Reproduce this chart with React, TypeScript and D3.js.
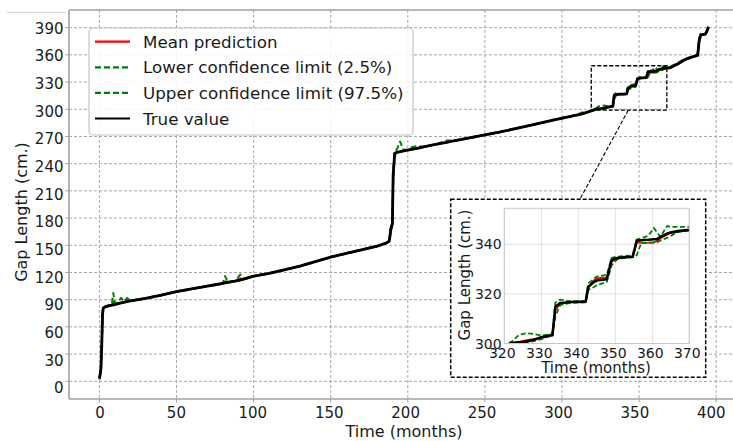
import React from 'react';
import * as d3 from 'd3';

const months = [0, 0.5, 1, 1.5, 2, 2.5, 4, 6, 8, 9,
  10, 12, 14, 16, 18, 20, 25, 30, 40, 50,
  60, 70, 75, 80, 81.5, 83, 88, 91.4, 93, 100,
  110, 117, 130, 140, 150, 160, 170, 180, 186, 188,
  189, 190, 190.5, 191.5, 193, 195, 197, 200, 203, 206,
  210, 220, 225, 230, 240, 260, 280, 295, 310, 313,
  316, 320, 322, 324, 326, 328, 330, 332, 333, 333.8,
  335.1, 338, 342, 342.7, 344, 345, 347.7, 349, 350.4, 352,
  354.7, 355.8, 357, 359, 360.4, 361.2, 362.2, 364, 364.8, 367,
  370, 375, 380, 385, 388, 389, 390, 393, 394, 395];

const trueValue = [3, 8, 15, 40, 74, 81, 82.3, 83.3, 84, 84.4,
  84.8, 85.6, 86.4, 87.2, 88, 88.6, 90, 91.5, 95, 99,
  102, 105, 106.5, 108, 108.5, 109, 110.5, 111.8, 112.5, 116,
  119, 121.7, 127, 132, 137, 141, 145, 149, 152.5, 155,
  168, 174, 228, 251.5, 252.5, 253.2, 254, 255, 256, 257,
  258.5, 262, 263.5, 265.3, 268.5, 275, 282.5, 288.4, 293.8, 295,
  296.6, 298.8, 300.2, 300.5, 300.8, 301.5, 302.5, 303.2, 303.3, 314.8,
  316.3, 316.7, 316.9, 322.9, 324.5, 325.4, 325.9, 333.7, 334.4, 334.7,
  335, 341.4, 341.6, 341.8, 342, 342, 343, 344.3, 344.7, 345.3,
  345.8, 350, 355, 358, 359.5, 376, 382, 383, 386, 391];

const meanPrediction = [3, 8, 15, 40, 74, 81, 82.3, 83.3, 84, 87.5,
  85.3, 85.6, 86.4, 87.2, 90, 88.6, 90, 91.5, 95, 99,
  102, 105, 106.5, 108, 110, 109, 110.5, 113.5, 112.5, 116,
  119, 121.7, 127, 132, 137, 141, 145, 149, 152.5, 155,
  168, 174, 225, 251.5, 252.5, 253.5, 254, 255, 256, 257,
  258.5, 262, 263.5, 265.3, 268.5, 275, 282.5, 288.4, 293.8, 295,
  296.6, 298.8, 300.2, 300.7, 301.4, 301.8, 302.2, 303, 303.3, 313.5,
  316, 316.7, 316.9, 322.5, 325.2, 326.3, 326.6, 333, 334.3, 334.7,
  335, 340.8, 340.6, 340.7, 340.9, 341.2, 342.4, 343.9, 344.5, 345.2,
  345.8, 350, 355, 358, 359.8, 376.5, 382, 383, 386, 391];

const lowerLimit = [2, 7, 14, 38, 72, 80.5, 82, 83, 83.7, 84,
  84.5, 85.3, 86.1, 87, 87.8, 88.3, 89.7, 91.2, 94.7, 98.7,
  101.7, 104.7, 106.2, 107.7, 108.2, 108.7, 110.2, 111.5, 112.2, 115.7,
  118.7, 121.4, 126.7, 131.7, 136.7, 140.7, 144.7, 148.7, 152.2, 154,
  165, 172, 222, 250, 252, 253, 253.7, 254.7, 255.7, 256.7,
  258.2, 261.7, 263.2, 265, 268.2, 274.7, 282.2, 288.1, 293.5, 294.7,
  296.3, 298.5, 299.9, 300.2, 300.5, 301, 301.8, 302.8, 303, 311,
  315.5, 316.4, 316.6, 321.6, 322.6, 323.5, 324.8, 331.5, 333.8, 334.4,
  334.7, 335.6, 340.5, 340.6, 340.6, 340.7, 341.5, 342.6, 343.2, 345,
  345.5, 349.7, 354.7, 357.7, 359, 374, 381, 382.7, 385, 390];

const upperLimit = [4, 9, 16, 42, 76, 82, 82.8, 83.8, 84.4, 97.5,
  86, 87, 92, 88, 92, 89, 90.3, 91.8, 95.3, 99.3,
  102.3, 105.3, 106.8, 108.3, 116, 110, 110.8, 117.8, 113, 116.3,
  119.3, 122, 127.3, 132.3, 137.3, 141.3, 145.3, 149.3, 152.8, 156,
  170, 176, 232, 252.5, 256, 264.5, 255.5, 255.5, 258.5, 259.5,
  258.8, 262.3, 265.5, 265.6, 268.8, 275.3, 282.8, 288.7, 294.1, 296.5,
  296.9, 299.1, 300.8, 303.5, 304.2, 303.8, 303.2, 303.6, 304, 316.5,
  317.7, 317, 317.2, 324.3, 325.8, 327, 327.7, 334.5, 335, 335.2,
  335.5, 342, 342.3, 343.5, 346.6, 345, 343, 347.4, 347, 347,
  347, 351, 356, 358.5, 361, 379, 383, 383.5, 387, 391.5];

const xTicks = [0, 50, 100, 150, 200, 250, 300, 350, 400];
const yTicks = [0, 30, 60, 90, 120, 150, 180, 210, 240, 270, 300, 330, 360, 390];
const insetXTicks = [320, 330, 340, 350, 360, 370];
const insetYTicks = [300, 320, 340];
const zoomWindow = { x0: 319, x1: 368, y0: 299, y1: 348 };

const seriesDefs = [
  { label: 'Mean prediction', values: meanPrediction, color: '#ff0000', dash: '' },
  { label: 'Lower confidence limit (2.5%)', values: lowerLimit, color: '#008000', dash: '6,3' },
  { label: 'Upper confidence limit (97.5%)', values: upperLimit, color: '#008000', dash: '6,3' },
  { label: 'True value', values: trueValue, color: '#000000', dash: '' },
];

const FONT = 'DejaVu Sans, sans-serif';

export default function App() {
  const x = d3.scaleLinear().domain([-19.75, 414.75]).range([69, 738.9]);
  const y = d3.scaleLinear().domain([-19.5, 409.5]).range([399, 10]);
  const xLab = d3.scaleLinear().domain([0, 400]).range([100, 711.3]);
  const yLab = d3.scaleLinear().domain([0, 390]).range([388, 28.3]);

  const xi = d3.scaleLinear().domain([320, 370]).range([504.3, 689.3]);
  const yi = d3.scaleLinear().domain([300, 354.5]).range([343.5, 208.3]);

  const mainLine = (vals: number[]) =>
    d3.line<number>().x((_, i) => x(months[i])).y((v) => y(v))(vals) || '';
  const insetLine = (vals: number[]) =>
    d3.line<number>().x((_, i) => xi(months[i])).y((v) => yi(v))(vals) || '';

  const gridColor = '#a8a8a8';
  const spineColor = '#a0a0a0';

  return (
    <svg width={733} height={441} style={{ position: 'absolute', left: 0, top: 0, background: '#fff' }}
      fontFamily={FONT}>
      <defs>
        <clipPath id="mainClip"><rect x={69} y={10} width={670} height={389} /></clipPath>
        <clipPath id="insetClip"><rect x={xi(320)} y={yi(354.5)} width={xi(370) - xi(320)} height={yi(300) - yi(354.5)} /></clipPath>
      </defs>
      <rect x={0} y={0} width={733} height={441} fill="#fff" />
      <line x1={7} x2={66} y1={12.3} y2={12.3} stroke="#cfcfcf" strokeWidth={1} />

      <g clipPath="url(#mainClip)">
        {xTicks.map((t) => (
          <line key={'gx' + t} x1={x(t)} x2={x(t)} y1={10} y2={399} stroke={gridColor} strokeWidth={1} strokeDasharray="3,2" />
        ))}
        {yTicks.map((t) => (
          <line key={'gy' + t} x1={69} x2={739} y1={y(t)} y2={y(t)} stroke={gridColor} strokeWidth={1} strokeDasharray="3,2" />
        ))}
      </g>

      <g clipPath="url(#mainClip)" fill="none">
        {seriesDefs.map((s) => (
          <path key={s.label} d={mainLine(s.values)} stroke={s.color}
            strokeWidth={s.label === 'True value' ? 2.8 : 2}
            strokeDasharray={s.dash || undefined} strokeLinejoin="round" />
        ))}
      </g>

      <line x1={69} x2={69} y1={10} y2={399} stroke={spineColor} strokeWidth={1.6} />
      <line x1={69} x2={739} y1={399} y2={399} stroke={spineColor} strokeWidth={1.6} />
      <line x1={69} x2={739} y1={10} y2={10} stroke={spineColor} strokeWidth={1.6} />

      {yTicks.map((t) => (
        <g key={'yt' + t}>
          <line x1={65.5} x2={69} y1={y(t)} y2={y(t)} stroke={spineColor} strokeWidth={1} />
          <text x={63.5} y={yLab(t)} dy="0.36em" textAnchor="end" fontSize={15} fill="#1a1a1a">{t}</text>
        </g>
      ))}
      {xTicks.map((t) => (
        <g key={'xt' + t}>
          <line x1={x(t)} x2={x(t)} y1={399} y2={402.5} stroke={spineColor} strokeWidth={1} />
          <text x={xLab(t)} y={417.5} textAnchor="middle" fontSize={15} fill="#1a1a1a">{t}</text>
        </g>
      ))}
      <text x={404} y={437} textAnchor="middle" fontSize={16} fill="#1a1a1a">Time (months)</text>
      <text transform="translate(27,212) rotate(-90)" textAnchor="middle" fontSize={16} fill="#1a1a1a">Gap Length (cm.)</text>

      <rect x={89} y={28} width={324} height={107} rx={4} fill="#fff" fillOpacity={0.85} stroke="#c4c4c4" strokeWidth={1.2} />
      {seriesDefs.map((s, i) => {
        const ly = 41.7 + i * 25.6;
        return (
          <g key={'lg' + s.label}>
            <line x1={95} x2={130} y1={ly} y2={ly} stroke={s.color} strokeWidth={2.2}
              strokeDasharray={s.dash || undefined} />
            <text x={143} y={ly} dy="0.36em" fontSize={16.7} fill="#1a1a1a">{s.label}</text>
          </g>
        );
      })}

      <rect x={x(zoomWindow.x0)} y={y(zoomWindow.y1)} width={x(zoomWindow.x1) - x(zoomWindow.x0)}
        height={y(zoomWindow.y0) - y(zoomWindow.y1)} fill="none" stroke="#000" strokeWidth={1.3} strokeDasharray="4,2" />
      <line x1={x(343)} y1={y(zoomWindow.y0)} x2={580} y2={199} stroke="#000" strokeWidth={1.1} strokeDasharray="4,2" />

      <rect x={450.7} y={199.3} width={255} height={178} fill="#fff" stroke="#000" strokeWidth={1.5} strokeDasharray="4,2" />
      <rect x={xi(320)} y={yi(354.5)} width={xi(370) - xi(320)} height={yi(300) - yi(354.5)} fill="#fff" />
      {insetXTicks.map((t) => (
        <line key={'igx' + t} x1={xi(t)} x2={xi(t)} y1={yi(354.5)} y2={yi(300)} stroke="#dcdcdc" strokeWidth={0.9} />
      ))}
      {insetYTicks.map((t) => (
        <line key={'igy' + t} x1={xi(320)} x2={xi(370)} y1={yi(t)} y2={yi(t)} stroke="#dcdcdc" strokeWidth={0.9} />
      ))}
      <g clipPath="url(#insetClip)" fill="none">
        {seriesDefs.map((s) => (
          <path key={'in' + s.label} d={insetLine(s.values)} stroke={s.color}
            strokeWidth={s.label === 'True value' ? 2.6 : 1.8}
            strokeDasharray={s.dash ? '5,2.5' : undefined} strokeLinejoin="round" />
        ))}
      </g>
      <rect x={xi(320)} y={yi(354.5)} width={xi(370) - xi(320)} height={yi(300) - yi(354.5)} fill="none" stroke="#c8c8c8" strokeWidth={1} />
      {insetXTicks.map((t) => (
        <text key={'ixt' + t} x={xi(t) - 2} y={352.5} dy="0.36em" textAnchor="middle" fontSize={14} fill="#1a1a1a">{t}</text>
      ))}
      {insetYTicks.map((t) => (
        <text key={'iyt' + t} x={501.7} y={yi(t)} dy="0.36em" textAnchor="end" fontSize={14} fill="#1a1a1a">{t}</text>
      ))}
      <text x={596} y={367.5} dy="0.36em" textAnchor="middle" fontSize={15} fill="#1a1a1a">Time (months)</text>
      <text transform="translate(465,275) rotate(-90)" dy="0.36em" textAnchor="middle" fontSize={15} fill="#1a1a1a">Gap Length (cm.)</text>
    </svg>
  );
}
